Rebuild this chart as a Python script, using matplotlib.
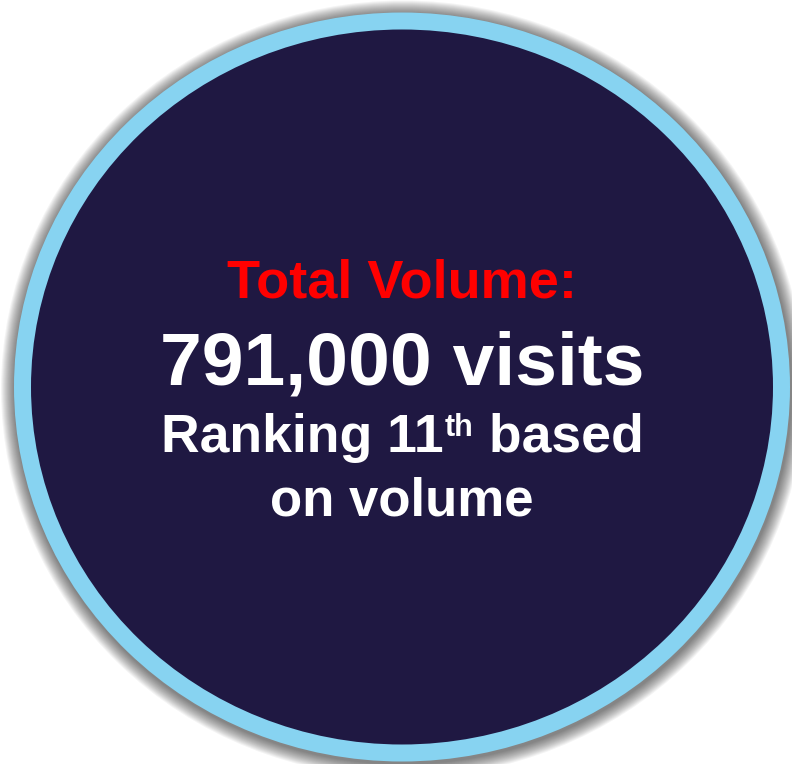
import matplotlib
matplotlib.use("Agg")
import matplotlib.pyplot as plt
from matplotlib.patches import Ellipse

# badge text
title_text = "Total Volume:"
value_text = "791,000 visits"
rank_parts = ["Ranking 11", "th", " based"]
last_line = "on volume"

# colours
navy = "#1f1842"
ring_blue = "#87d3f1"
red = "#ff0000"

W, H = 792, 764
fig = plt.figure(figsize=(W / 100, H / 100), dpi=100)
ax = fig.add_axes([0, 0, 1, 1])
ax.set_xlim(0, W)
ax.set_ylim(H, 0)
ax.axis("off")

cx, cy = 402, 387
outer_w, outer_h = 776, 749
ring = 17

# soft shadow round the badge
for i in range(14, 0, -1):
    ax.add_patch(Ellipse((cx + 1, cy + 2), outer_w + 2 * i, outer_h + 2 * i,
                         facecolor="black", edgecolor="none", alpha=0.045))

ax.add_patch(Ellipse((cx, cy), outer_w, outer_h, facecolor=ring_blue, edgecolor="none"))
ax.add_patch(Ellipse((cx, cy), outer_w - 2 * ring, outer_h - 2 * ring,
                     facecolor=navy, edgecolor="none"))

font = "Liberation Sans"
ax.text(cx, 298, title_text, color=red, fontsize=39, fontweight="bold",
        family=font, ha="center", va="baseline")
ax.text(cx, 384, value_text, color="white", fontsize=54, fontweight="bold",
        family=font, ha="center", va="baseline")

# ranking line with superscript, centred after measuring
t1 = ax.text(cx, 452, rank_parts[0], color="white", fontsize=38.5, fontweight="bold",
             family=font, ha="left", va="baseline")
t2 = ax.annotate(rank_parts[1], xy=(1, 1), xycoords=t1, xytext=(1, 0),
                 textcoords="offset points", color="white", fontsize=22,
                 fontweight="bold", family=font, ha="left", va="top")
t3 = ax.annotate(rank_parts[2], xy=(1, 0), xycoords=(t2, t1), color="white",
                 fontsize=38.5, fontweight="bold", family=font, ha="left", va="bottom")

fig.canvas.draw()
r = fig.canvas.get_renderer()
left = t1.get_window_extent(r).x0
right = t3.get_window_extent(r).x1
shift_px = (left + right) / 2 - cx
t1.set_x(cx - shift_px)

ax.text(cx, 516, last_line, color="white", fontsize=38, fontweight="bold",
        family=font, ha="center", va="baseline")

fig.savefig("out.png", dpi=100, facecolor="white")
